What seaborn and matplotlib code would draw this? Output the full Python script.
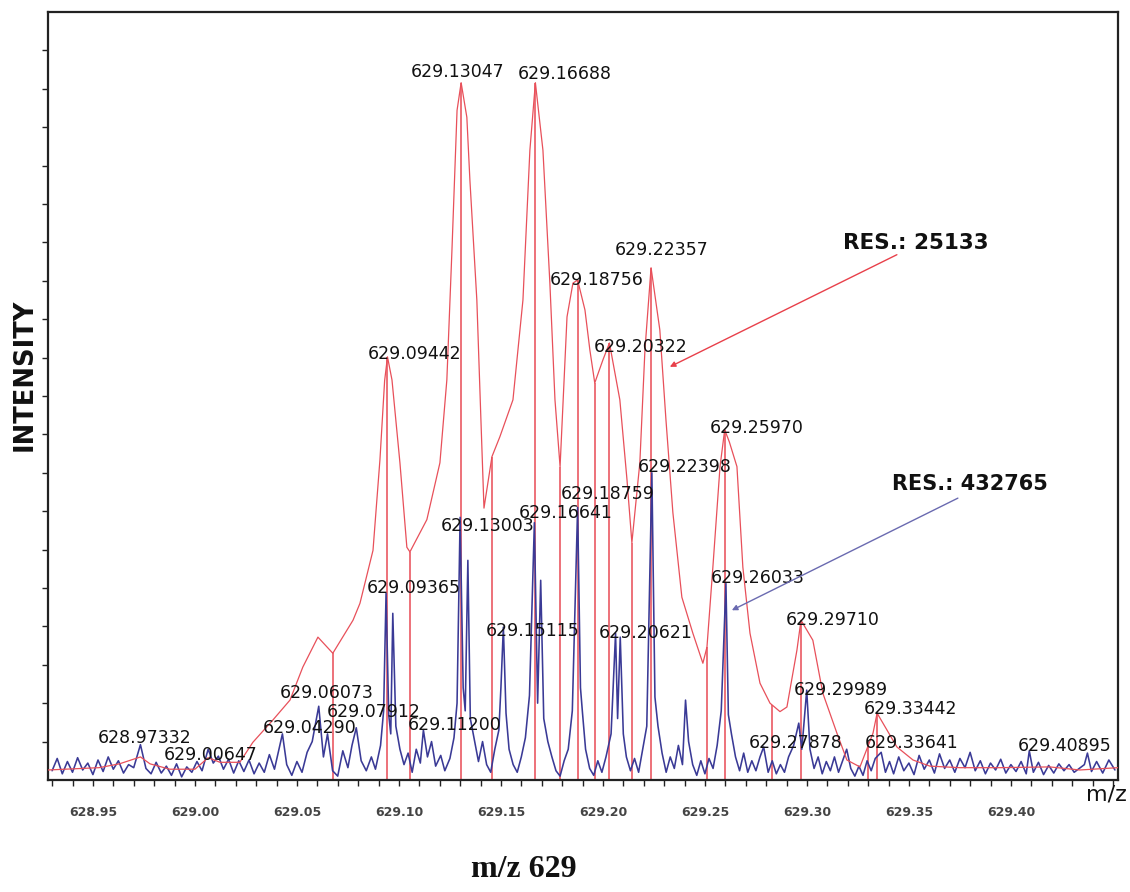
import numpy as np
import pandas as pd
import matplotlib
matplotlib.use("Agg")
import matplotlib.pyplot as plt
import seaborn as sns
from matplotlib.ticker import MultipleLocator, FixedLocator

sns.set_theme(style="ticks")
plt.rcParams["font.family"] = ["DejaVu Sans"]

# ------------------------------------------------------
# DATA  (m/z, relative intensity 0-100)
# ------------------------------------------------------
# low resolution profile (red)
profile_mz = [628.9280, 628.9530, 628.9630, 628.9733, 628.9780, 628.9877, 629.0000, 629.0065,
              629.0123, 629.0220, 629.0284, 629.0382, 629.0466, 629.0529, 629.0603, 629.0676,
              629.0775, 629.0809, 629.0873, 629.0907, 629.0930, 629.0944, 629.0966, 629.1005, 629.1039,
              629.1054, 629.1137, 629.1201, 629.1235, 629.1260, 629.1285, 629.1305, 629.1333,
              629.1348, 629.1382, 629.1402, 629.1417, 629.1456, 629.1495, 629.1559, 629.1608,
              629.1642, 629.1669, 629.1706, 629.1740, 629.1765, 629.1790, 629.1824, 629.1853,
              629.1876, 629.1912, 629.1936, 629.1960, 629.2000, 629.2032, 629.2083, 629.2118,
              629.2142, 629.2181, 629.2206, 629.2236, 629.2279, 629.2309, 629.2343, 629.2387,
              629.2441, 629.2490, 629.2510, 629.2539, 629.2574, 629.2597, 629.2620, 629.2657,
              629.2686, 629.2721, 629.2770, 629.2819, 629.2868, 629.2902, 629.2951, 629.2971,
              629.3029, 629.3078, 629.3147, 629.3196, 629.3260, 629.3324, 629.3344, 629.3441,
              629.3520, 629.3603, 629.3750, 629.3946, 629.4190, 629.4338, 629.4525]
profile_int = [1.3, 1.6, 2.1, 3.0, 2.1, 1.4, 1.4, 2.9,
               2.3, 2.3, 4.9, 7.8, 10.4, 14.7, 18.6, 16.5,
               20.8, 23.0, 29.9, 41.7, 52.0, 55.1, 52.1, 41.3, 30.3,
               29.7, 33.9, 41.3, 52.1, 69.0, 87.2, 90.8, 86.3,
               78.1, 62.5, 46.9, 35.4, 42.1, 44.7, 49.5, 62.5,
               82.0, 90.8, 82.0, 64.7, 49.5, 40.8, 60.3, 64.7,
               65.1, 61.2, 56.0, 51.7, 54.7, 56.9, 49.5, 39.1,
               30.9, 41.3, 56.0, 66.7, 58.6, 46.9, 34.8, 23.8,
               19.1, 15.2, 17.3, 27.7, 40.8, 45.6, 44.0, 40.8,
               27.7, 19.1, 12.6, 10.0, 8.9, 9.5, 16.9, 20.8,
               18.2, 11.3, 6.1, 2.6, 1.7, 6.1, 8.7, 4.3,
               2.6, 1.8, 1.6, 1.6, 1.7, 1.3, 1.6]

# centroid sticks of the profile
stick_mz = [629.0676, 629.0944, 629.1054, 629.1305, 629.1456, 629.1669, 629.1790, 629.1876, 629.1960,
            629.2032, 629.2142, 629.2236, 629.2510, 629.2597, 629.2828, 629.2971, 629.3300, 629.3344]
stick_int = [16.5, 55.1, 29.7, 90.8, 42.1, 90.8, 40.8, 65.1, 51.7,
             56.9, 30.9, 66.7, 17.3, 45.6, 9.8, 20.8, 5.0, 8.7]

# high resolution spectrum (blue)
hires_mz = [628.9300, 628.9325, 628.9350, 628.9375, 628.9400, 628.9425, 628.9450, 628.9475, 628.9500, 628.9525,
            628.9550, 628.9575, 628.9600, 628.9625, 628.9650, 628.9675, 628.9700, 628.9733, 628.9760, 628.9785,
            628.9810, 628.9835, 628.9860, 628.9885, 628.9910, 628.9935, 628.9960, 628.9985, 629.0010, 629.0035,
            629.0065, 629.0090, 629.0115, 629.0140, 629.0165, 629.0190, 629.0215, 629.0240, 629.0265, 629.0290,
            629.0315, 629.0340, 629.0365, 629.0390, 629.0429, 629.0450, 629.0475, 629.0500, 629.0525, 629.0550,
            629.0575, 629.0607, 629.0630, 629.0650, 629.0675, 629.0700, 629.0725, 629.0750, 629.0770, 629.0791,
            629.0815, 629.0840, 629.0865, 629.0885, 629.0910, 629.0925, 629.0937, 629.0950, 629.0960, 629.0970,
            629.0985, 629.1005, 629.1025, 629.1045, 629.1065, 629.1085, 629.1105, 629.1120, 629.1140, 629.1160,
            629.1180, 629.1205, 629.1225, 629.1250, 629.1270, 629.1285, 629.1300, 629.1315, 629.1325, 629.1338,
            629.1350, 629.1370, 629.1390, 629.1410, 629.1430, 629.1450, 629.1470, 629.1490, 629.1500, 629.1512,
            629.1525, 629.1540, 629.1560, 629.1580, 629.1600, 629.1620, 629.1640, 629.1664, 629.1680, 629.1695,
            629.1710, 629.1730, 629.1750, 629.1770, 629.1790, 629.1810, 629.1830, 629.1850, 629.1876, 629.1890,
            629.1900, 629.1915, 629.1935, 629.1955, 629.1975, 629.1995, 629.2015, 629.2040, 629.2062, 629.2072,
            629.2085, 629.2100, 629.2115, 629.2135, 629.2155, 629.2175, 629.2195, 629.2215, 629.2240, 629.2255,
            629.2270, 629.2290, 629.2310, 629.2330, 629.2350, 629.2370, 629.2390, 629.2405, 629.2420, 629.2440,
            629.2460, 629.2480, 629.2500, 629.2520, 629.2540, 629.2560, 629.2580, 629.2603, 629.2615, 629.2630,
            629.2650, 629.2670, 629.2690, 629.2710, 629.2730, 629.2750, 629.2770, 629.2788, 629.2810, 629.2830,
            629.2850, 629.2870, 629.2890, 629.2910, 629.2935, 629.2960, 629.2975, 629.2999, 629.3015, 629.3035,
            629.3055, 629.3075, 629.3095, 629.3115, 629.3135, 629.3155, 629.3175, 629.3195, 629.3215, 629.3235,
            629.3255, 629.3275, 629.3295, 629.3315, 629.3335, 629.3364, 629.3385, 629.3405, 629.3425, 629.3450,
            629.3475, 629.3500, 629.3525, 629.3550, 629.3575, 629.3600, 629.3625, 629.3650, 629.3675, 629.3700,
            629.3725, 629.3750, 629.3775, 629.3800, 629.3825, 629.3850, 629.3875, 629.3900, 629.3925, 629.3950,
            629.3975, 629.4000, 629.4025, 629.4050, 629.4075, 629.4090, 629.4110, 629.4135, 629.4160, 629.4185,
            629.4210, 629.4235, 629.4260, 629.4285, 629.4310, 629.4335, 629.4360, 629.4375, 629.4395, 629.4420,
            629.4450, 629.4480, 629.4510]
hires_int = [1.2, 2.8, 0.8, 2.4, 1.0, 2.9, 1.3, 2.2, 0.7, 2.6,
             1.1, 3.0, 1.4, 2.5, 0.9, 2.0, 1.6, 4.6, 1.5, 0.8,
             2.3, 0.9, 1.8, 0.6, 2.1, 0.4, 1.7, 1.0, 2.4, 1.2,
             4.0, 2.2, 3.1, 1.4, 2.7, 0.9, 2.5, 1.1, 2.6, 0.8,
             2.2, 1.0, 3.3, 1.4, 6.0, 2.0, 0.6, 2.4, 1.0, 3.6,
             5.0, 9.6, 3.0, 6.0, 1.2, 0.5, 3.8, 1.6, 4.5, 6.8,
             2.5, 1.2, 3.0, 1.4, 4.5, 9.0, 24.3, 8.5, 6.0, 21.7,
             7.0, 4.0, 2.0, 3.5, 1.0, 4.0, 2.2, 6.5, 3.0, 5.0,
             1.8, 3.2, 1.2, 2.8, 5.5, 10.0, 34.2, 12.0, 9.0, 28.6,
             8.0, 5.2, 2.4, 5.0, 2.0, 1.0, 4.0, 6.5, 12.0, 19.9,
             8.7, 4.0, 2.0, 1.0, 3.0, 5.5, 11.0, 33.5, 10.0, 26.0,
             8.0, 5.0, 3.0, 1.2, 0.5, 2.5, 4.0, 9.0, 35.5, 12.0,
             8.7, 4.0, 1.5, 0.6, 2.5, 1.0, 3.0, 6.0, 19.1, 8.0,
             18.6, 6.0, 3.0, 1.2, 2.8, 1.0, 4.0, 7.0, 40.0, 10.8,
             7.0, 3.5, 1.0, 3.0, 1.5, 4.5, 2.0, 10.4, 5.0, 2.0,
             0.6, 2.5, 0.8, 2.8, 1.5, 4.5, 9.0, 25.6, 8.5, 6.0,
             3.0, 1.2, 3.5, 1.0, 2.5, 1.2, 3.0, 4.3, 1.0, 2.5,
             0.8, 2.0, 1.0, 3.0, 4.5, 7.4, 4.0, 11.7, 4.0, 1.5,
             3.0, 0.8, 2.4, 1.2, 3.0, 1.0, 2.5, 4.0, 1.5, 0.5,
             1.8, 0.6, 2.5, 1.2, 2.8, 3.6, 1.0, 2.4, 0.8, 3.0,
             1.2, 2.2, 0.7, 3.2, 1.4, 2.6, 0.9, 3.4, 1.5, 2.6,
             1.0, 2.8, 1.6, 3.6, 1.2, 2.5, 0.8, 2.2, 1.3, 2.7,
             0.9, 2.0, 1.1, 2.4, 0.8, 3.8, 1.0, 2.3, 0.7, 1.9,
             0.9, 2.1, 1.2, 2.0, 1.0, 1.5, 2.0, 3.5, 1.1, 2.4,
             0.9, 2.6, 1.3]

# x tick values shown on the axis
xtick_values = [628.95, 629.00, 629.05, 629.10, 629.15, 629.20, 629.25, 629.30, 629.35, 629.40]

# labelled peaks
peak_labels = ["629.13047", "629.16688", "629.22357", "629.18756", "629.20322", "629.09442",
               "629.25970", "629.22398", "629.18759", "629.16641", "629.13003", "629.26033",
               "629.09365", "629.29710", "629.15115", "629.20621", "629.29989", "629.06073",
               "629.33442", "629.07912", "629.04290", "629.11200", "628.97332", "629.00647",
               "629.27878", "629.33641", "629.40895"]

res_labels = ["RES.: 25133", "RES.: 432765"]

profile = pd.DataFrame({"mz": profile_mz, "intensity": profile_int})
hires = pd.DataFrame({"mz": hires_mz, "intensity": hires_int})

# ------------------------------------------------------
# FIGURE
# ------------------------------------------------------
fig = plt.figure(figsize=(11.3, 8.92), dpi=100)
ax = fig.add_axes([0.0425, 0.1256, 0.9469, 0.8609])

RED = "#e8505a"
BLUE = "#3a3a96"

ax.vlines(stick_mz, 0, stick_int, colors="#e63c46", linewidth=1.2, alpha=0.85, zorder=2)
sns.lineplot(data=hires, x="mz", y="intensity", color=BLUE, linewidth=1.15,
             estimator=None, sort=False, ax=ax, zorder=3)
sns.lineplot(data=profile, x="mz", y="intensity", color=RED, linewidth=0.9,
             estimator=None, sort=False, ax=ax, zorder=4)

ax.set_xlim(628.928, 629.4525)
ax.set_ylim(0, 100)
ax.xaxis.set_major_locator(FixedLocator(xtick_values))
ax.xaxis.set_minor_locator(MultipleLocator(0.01))
ax.yaxis.set_major_locator(FixedLocator(list(range(5, 100, 5))))
ax.set_xticklabels([f"{v:.2f}" for v in xtick_values])
ax.tick_params(axis="x", which="both", direction="out", length=4, width=1, color="#222222",
               pad=15, labelsize=9, labelcolor="#444444")
for lbl in ax.get_xticklabels():
    lbl.set_fontweight("bold")
ax.tick_params(axis="y", which="both", direction="out", length=4, width=1, color="#222222",
               labelleft=False)
ax.set_xlabel("")
ax.set_ylabel("")
for s in ax.spines.values():
    s.set_visible(True)
    s.set_linewidth(1.6)
    s.set_color("#222222")

# peak labels (text centre positions)
label_pos = [(629.1289, 92.2), (629.1814, 91.9), (629.2289, 69.0), (629.1971, 65.1), (629.2186, 56.4),
             (629.1078, 55.5), (629.2755, 45.8), (629.2402, 40.8), (629.2025, 37.2), (629.1819, 34.8),
             (629.1436, 33.1), (629.2760, 26.3), (629.1074, 25.0), (629.3127, 20.8), (629.1657, 19.4),
             (629.2211, 19.1), (629.3167, 11.7), (629.0647, 11.3), (629.3510, 9.2), (629.0877, 8.9),
             (629.0564, 6.8), (629.1275, 7.2), (628.9755, 5.5), (629.0078, 3.3), (629.2946, 4.8),
             (629.3515, 4.8), (629.4265, 4.4)]
for txt, (x, y) in zip(peak_labels, label_pos):
    ax.text(x, y, txt, ha="center", va="center", fontsize=12.5, color="#111111", zorder=5)

# resolution call-outs: arrows then texts
ax.annotate("", xy=(629.2328, 53.8), xytext=(629.3441, 68.4),
            arrowprops=dict(arrowstyle="-|>", color="#e8404a", lw=1.0, mutation_scale=8,
                            shrinkA=0, shrinkB=0), zorder=6)
ax.annotate("", xy=(629.2632, 22.1), xytext=(629.3740, 36.7),
            arrowprops=dict(arrowstyle="-|>", color="#6a6ab0", lw=1.0, mutation_scale=8,
                            shrinkA=0, shrinkB=0), zorder=6)
ax.text(629.3534, 69.9, res_labels[0], ha="center", va="center", fontsize=15.5,
        fontweight="bold", color="#111111", zorder=7)
ax.text(629.3799, 38.5, res_labels[1], ha="center", va="center", fontsize=15,
        fontweight="bold", color="#111111", zorder=7)

fig.text(0.0221, 0.5796, "INTENSITY", rotation=90, ha="center", va="center",
         fontsize=18.5, fontweight="bold", color="#111111")
fig.text(0.979, 0.109, "m/z", ha="center", va="center", fontsize=16, color="#111111")
fig.text(0.4637, 0.0247, "m/z 629", ha="center", va="center", fontsize=23,
         fontweight="bold", color="#111111", family=["Liberation Serif", "DejaVu Serif"])

fig.savefig("out.png", dpi=100, facecolor="white")
